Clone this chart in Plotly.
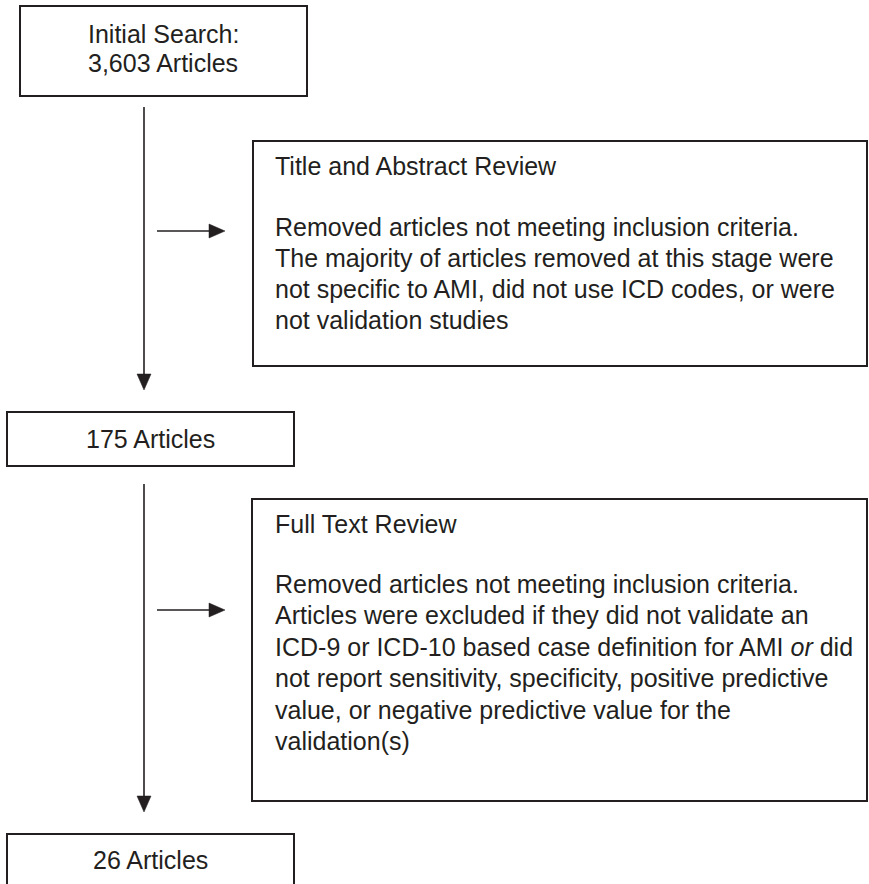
import plotly.graph_objects as go

# ---- content ----
article_counts = [3603, 175, 26]
stage_labels = ["Initial Search:", "3,603 Articles", "175 Articles", "26 Articles"]
review_titles = ["Title and Abstract Review", "Full Text Review"]
review1_lines = [
    "Removed articles not meeting inclusion criteria.",
    "The majority of articles removed at this stage were",
    "not specific to AMI, did not use ICD codes, or were",
    "not validation studies",
]
review2_lines = [
    "Removed articles not meeting inclusion criteria.",
    "Articles were excluded if they did not validate an",
    "ICD-9 or ICD-10 based case definition for AMI <i>or</i> did",
    "not report sensitivity, specificity, positive predictive",
    "value, or negative predictive value for the",
    "validation(s)",
]

W, H = 869, 884
INK = "#231f20"
FONT = dict(family="Liberation Sans, Arial, sans-serif", size=25, color=INK)
LW = 2

fig = go.Figure()
shapes = []
annotations = []


def box(x0, y0, x1, y1):
    shapes.append(dict(type="rect", xref="x", yref="y", x0=x0, y0=y0, x1=x1, y1=y1,
                       line=dict(color=INK, width=LW), fillcolor="rgba(0,0,0,0)", layer="above"))


def line(x0, y0, x1, y1):
    shapes.append(dict(type="line", xref="x", yref="y", x0=x0, y0=y0, x1=x1, y1=y1,
                       line=dict(color=INK, width=1.6)))


def tri(path):
    shapes.append(dict(type="path", xref="x", yref="y", path=path,
                       fillcolor=INK, line=dict(color=INK, width=0.5)))


def down_arrow(x, y0, y1):
    line(x, y0, x, y1 - 12)
    tri(f"M {x-7},{y1-16} L {x+7},{y1-16} L {x},{y1} Z")


def right_arrow(y, x0, x1):
    line(x0, y, x1 - 12, y)
    tri(f"M {x1-16},{y-7} L {x1-16},{y+7} L {x1},{y} Z")


def text(x, y, s, anchor="center"):
    annotations.append(dict(x=x, y=y, xref="x", yref="y", text=s, showarrow=False,
                            xanchor=anchor, yanchor="middle", font=FONT,
                            align=anchor))


# stage boxes
box(20, 6, 307, 96)
text(163, 34, stage_labels[0])
text(163, 63, stage_labels[1])

box(7, 412, 294, 466)
text(150, 439, stage_labels[2])

box(7, 834, 294, 890)
text(150, 860, stage_labels[3])

# vertical arrows
down_arrow(144, 107, 390)
down_arrow(144, 484, 812)

# review boxes
box(253, 141, 867, 366)
text(273, 166, review_titles[0], "left")
for i, s in enumerate(review1_lines):
    text(273, 227 + 31 * i, s, "left")
right_arrow(231, 157, 225)

box(252, 499, 867, 801)
text(273, 524, review_titles[1], "left")
for i, s in enumerate(review2_lines):
    text(273, 584 + 31.4 * i, s, "left")
right_arrow(610, 157, 225)

fig.update_layout(
    width=W, height=H,
    margin=dict(l=0, r=0, t=0, b=0),
    paper_bgcolor="white", plot_bgcolor="white",
    xaxis=dict(range=[0, W], visible=False, fixedrange=True),
    yaxis=dict(range=[H, 0], visible=False, fixedrange=True),
    shapes=shapes, annotations=annotations, showlegend=False,
)
fig.write_html("out.html", config={"displayModeBar": False},
               post_script="document.body.style.margin='0px';")
